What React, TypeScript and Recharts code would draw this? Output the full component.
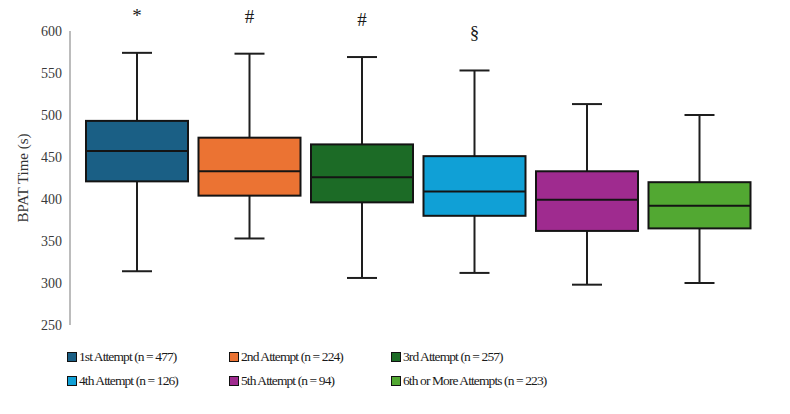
import React from 'react';
import { BarChart, Bar, XAxis, YAxis, Cell, LabelList, Legend } from 'recharts';

const categories = ['1st Attempt', '2nd Attempt', '3rd Attempt', '4th Attempt', '5th Attempt', '6th or More Attempts'];
const counts = [477, 224, 257, 126, 94, 223];
const mins = [314, 353, 306, 312, 298, 300];
const q1s = [421, 404, 396, 380, 362, 365];
const medians = [457, 433, 426, 409, 399, 392];
const q3s = [493, 473, 465, 451, 433, 420];
const maxs = [574, 573, 569, 553, 513, 500];
const marks = ['*', '#', '#', '§', '', ''];
const colors = ['#1A5F85', '#EB7333', '#1C6B26', '#10A0D6', '#9F2B8F', '#52A832'];
const yTicks = [250, 300, 350, 400, 450, 500, 550, 600];

const data = categories.map((name, i) => ({
  name,
  n: counts[i],
  min: mins[i],
  q1: q1s[i],
  median: medians[i],
  q3: q3s[i],
  max: maxs[i],
  mark: marks[i],
  color: colors[i],
}));

const FONT = '"Liberation Serif", "Times New Roman", serif';

const BoxShape = (props: any) => {
  const { x, y, width, height, payload } = props;
  const top = Math.min(y, y + height);
  const h = Math.abs(height);
  const { min, q1, median, q3, max, color } = payload;
  const toY = (v: number) => top + ((max - v) / (max - min)) * h;
  const cx = x + width / 2;
  const capW = 30;
  const stroke = '#1e1e1e';
  return (
    <g>
      <line x1={cx} x2={cx} y1={toY(max)} y2={toY(min)} stroke={stroke} strokeWidth={2} />
      <line x1={cx - capW / 2} x2={cx + capW / 2} y1={toY(max)} y2={toY(max)} stroke={stroke} strokeWidth={2} />
      <line x1={cx - capW / 2} x2={cx + capW / 2} y1={toY(min)} y2={toY(min)} stroke={stroke} strokeWidth={2} />
      <rect x={x} y={toY(q3)} width={width} height={toY(q1) - toY(q3)} fill={color} stroke="#141414" strokeWidth={2} />
      <line x1={x} x2={x + width} y1={toY(median)} y2={toY(median)} stroke="#141414" strokeWidth={2} />
    </g>
  );
};

const LegendContent = () => (
  <div style={{ position: 'relative', width: 790, height: 50, fontFamily: FONT }}>
    {data.map((d, i) => {
      const col = i % 3;
      const row = Math.floor(i / 3);
      return (
        <div
          key={d.name}
          style={{
            position: 'absolute',
            left: 67 + col * 162,
            top: row * 24,
            height: 24,
            display: 'flex',
            alignItems: 'center',
            whiteSpace: 'nowrap',
          }}
        >
          <span
            style={{
              display: 'inline-block',
              width: 8,
              height: 8,
              background: d.color,
              border: '1.5px solid #111',
              marginRight: 2,
            }}
          />
          <span style={{ fontSize: 13.5, letterSpacing: -0.9, color: '#1a1a1a' }}>
            {`${d.name} (n = ${d.n})`}
          </span>
        </div>
      );
    })}
  </div>
);

export default function App() {
  return (
    <div style={{ position: 'absolute', left: 0, top: 0, width: 790, height: 414, background: '#fff' }}>
      <BarChart width={790} height={414} data={data} margin={{ top: 31, right: 34, bottom: 89, left: 0 }} barSize={102}>
        <XAxis dataKey="name" hide padding={{ left: 11, right: 0 }} />
        <YAxis
          width={70}
          domain={[250, 600]}
          ticks={yTicks}
          type="number"
          allowDataOverflow
          tickLine={false}
          axisLine={{ stroke: '#a6a6a6', strokeWidth: 1.5 }}
          tick={{ fill: '#3a3a3a', fontSize: 14, fontFamily: FONT }}
          label={{
            value: 'BPAT Time (s)',
            angle: -90,
            position: 'center',
            dx: -12,
            style: { fill: '#333', fontSize: 15, fontFamily: FONT, textAnchor: 'middle' },
          }}
        />
        <Legend
          layout="horizontal"
          verticalAlign="middle"
          align="center"
          wrapperStyle={{ top: 345, left: 0, width: 790 }}
          content={LegendContent}
        />
        <Bar dataKey={(d: any) => [d.min, d.max]} shape={BoxShape} isAnimationActive={false}>
          {data.map((d) => (
            <Cell key={d.name} fill={d.color} />
          ))}
          <LabelList
            dataKey="mark"
            position="top"
            offset={31}
            style={{ fill: '#1a1a1a', fontSize: 19, fontFamily: FONT }}
          />
        </Bar>
      </BarChart>
    </div>
  );
}
